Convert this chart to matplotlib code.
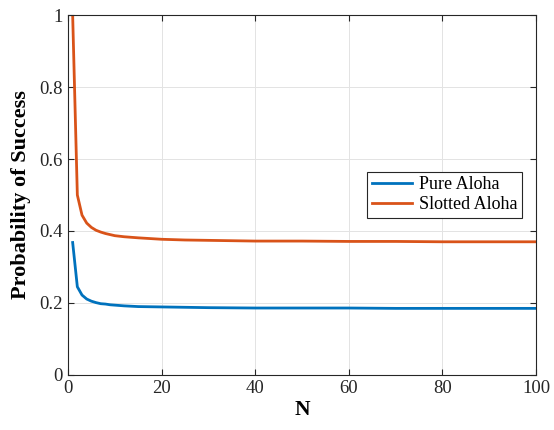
import matplotlib.pyplot as plt

# values
n_vals = [1, 2, 3, 4, 5, 6, 7, 8, 9, 10, 12, 15, 20, 25, 30, 40, 50, 60, 70, 80, 90, 100]
slotted = [1.0, 0.5, 0.444, 0.422, 0.410, 0.402, 0.397, 0.393, 0.390, 0.387, 0.384, 0.381,
           0.377, 0.375, 0.374, 0.372, 0.372, 0.371, 0.371, 0.370, 0.370, 0.370]
pure = [0.368, 0.245, 0.222, 0.211, 0.205, 0.201, 0.198, 0.197, 0.195, 0.194, 0.192, 0.190,
        0.189, 0.188, 0.187, 0.186, 0.186, 0.186, 0.185, 0.185, 0.185, 0.185]
x_ticks = [0, 20, 40, 60, 80, 100]
y_ticks = [0, 0.2, 0.4, 0.6, 0.8, 1]

plt.rcParams["font.family"] = ["Liberation Serif", "DejaVu Serif"]

fig = plt.figure(figsize=(5.54, 4.30), dpi=100)
ax = fig.add_axes([0.1227, 0.128, 0.8448, 0.837])

ax.plot(n_vals, pure, color="#0072BD", linewidth=2.0, label="Pure Aloha")
ax.plot(n_vals, slotted, color="#D95319", linewidth=2.0, label="Slotted Aloha")

ax.set_xlim(0, 100)
ax.set_ylim(0, 1)
ax.set_xticks(x_ticks)
ax.set_yticks(y_ticks)
ax.set_yticklabels(["0", "0.2", "0.4", "0.6", "0.8", "1"])
ax.tick_params(direction="in", labelsize=13.5, colors="#262626", top=True, right=True, length=4)
ax.grid(color="#e3e3e3", linewidth=0.7)
ax.set_axisbelow(True)
for s in ax.spines.values():
    s.set_color("#262626")
    s.set_linewidth(0.8)

ax.set_xlabel("N", fontsize=15.5, fontweight="bold", labelpad=2)
ax.set_ylabel("Probability of Success", fontsize=16, fontweight="bold", labelpad=6)

leg = ax.legend(loc="upper right", bbox_to_anchor=(0.970, 0.564), fontsize=13,
                fancybox=False, edgecolor="#262626", framealpha=1,
                borderpad=0.25, handlelength=2.2, handletextpad=0.4,
                labelspacing=0.15, borderaxespad=0)
leg.get_frame().set_linewidth(0.8)

fig.savefig("out.png", dpi=100)
